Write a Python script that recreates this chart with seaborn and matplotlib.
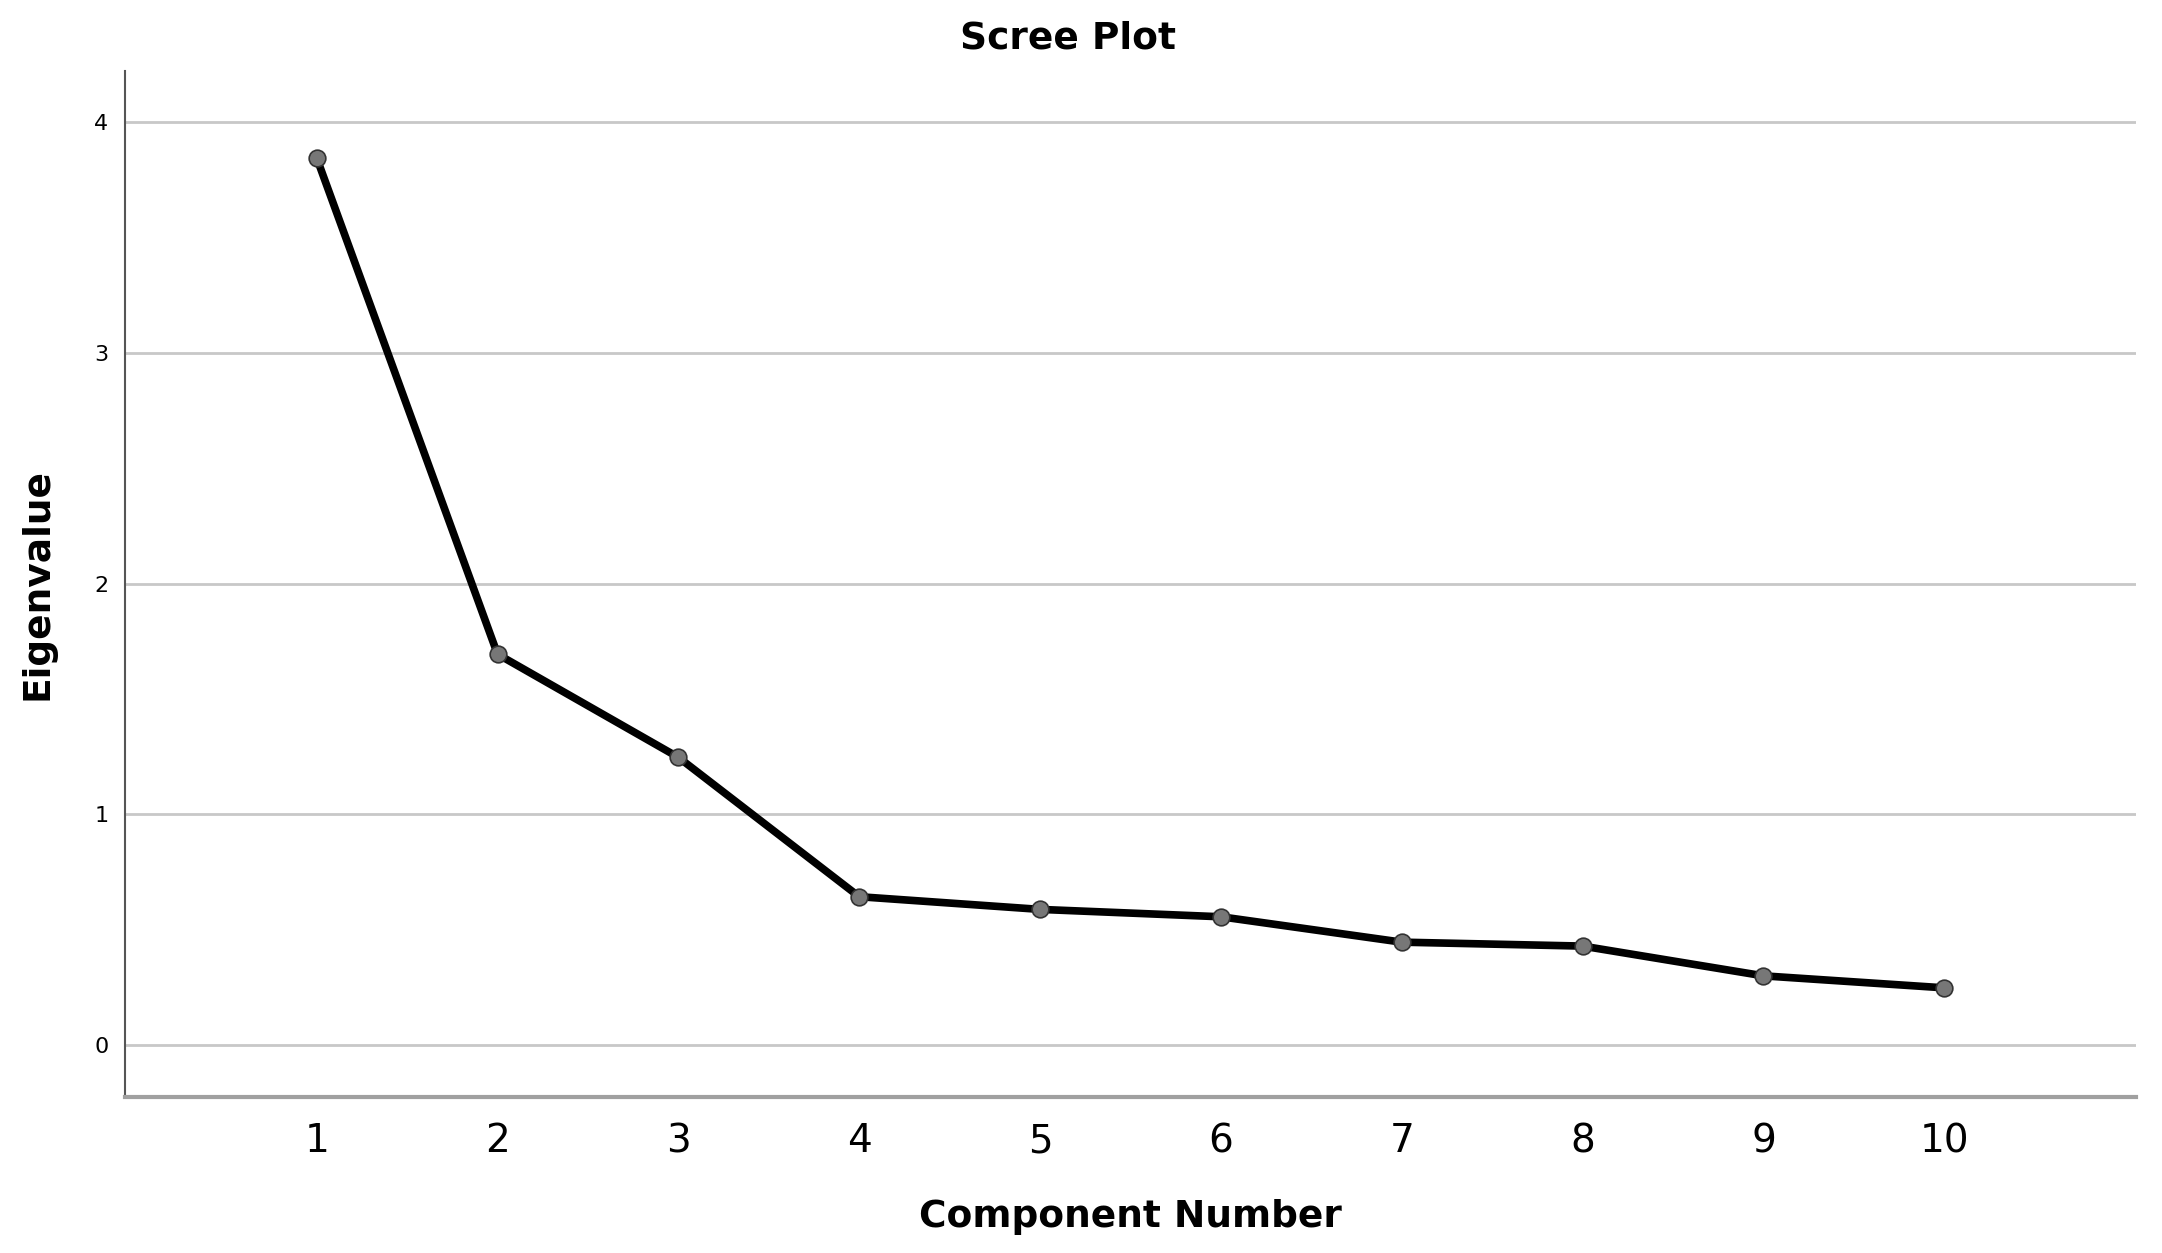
import matplotlib
matplotlib.use('Agg')
import matplotlib.pyplot as plt
import seaborn as sns
import pandas as pd

components = [1, 2, 3, 4, 5, 6, 7, 8, 9, 10]
eigenvalues = [3.845, 1.694, 1.247, 0.643, 0.588, 0.556, 0.446, 0.429, 0.300, 0.248]
y_ticks = [0, 1, 2, 3, 4]

sns.set_style('white')
plt.rcParams['font.family'] = ['DejaVu Sans']
plt.rcParams['text.color'] = 'black'
plt.rcParams['xtick.color'] = 'black'
plt.rcParams['ytick.color'] = 'black'
plt.rcParams['axes.labelcolor'] = 'black'

df = pd.DataFrame({'Component Number': components, 'Eigenvalue': eigenvalues})

fig = plt.figure(figsize=(21.62, 12.53), dpi=100)
ax = fig.add_axes([0.0578, 0.1245, 0.988 - 0.0578, 0.9433 - 0.1245])

for v in y_ticks:
    ax.axhline(v, color='#c8c8c8', lw=2, zorder=0)

sns.lineplot(data=df, x='Component Number', y='Eigenvalue', ax=ax,
             color='black', lw=5.5, marker='o', markersize=12,
             markerfacecolor='#777777', markeredgecolor='#333333',
             markeredgewidth=1.2)

ax.set_xlim(-0.06, 11.06)
ax.set_ylim(-0.225, 4.221)
ax.set_xticks(components)
ax.set_yticks(y_ticks)
ax.tick_params(axis='x', length=0, labelsize=28, pad=18)
ax.tick_params(axis='y', length=0, labelsize=16, pad=12)

for s in ['top', 'right']:
    ax.spines[s].set_visible(False)
ax.spines['left'].set_color('#555555')
ax.spines['left'].set_linewidth(1.5)
ax.spines['bottom'].set_color('#a0a0a0')
ax.spines['bottom'].set_linewidth(3)

ax.set_xlabel('Component Number', fontsize=27, fontweight='bold', labelpad=28)
ax.set_ylabel('Eigenvalue', fontsize=27, fontweight='bold', labelpad=28)
fig.suptitle('Scree Plot', x=0.494, y=0.984, fontsize=27, fontweight='bold')

fig.savefig('out.png', dpi=100)
